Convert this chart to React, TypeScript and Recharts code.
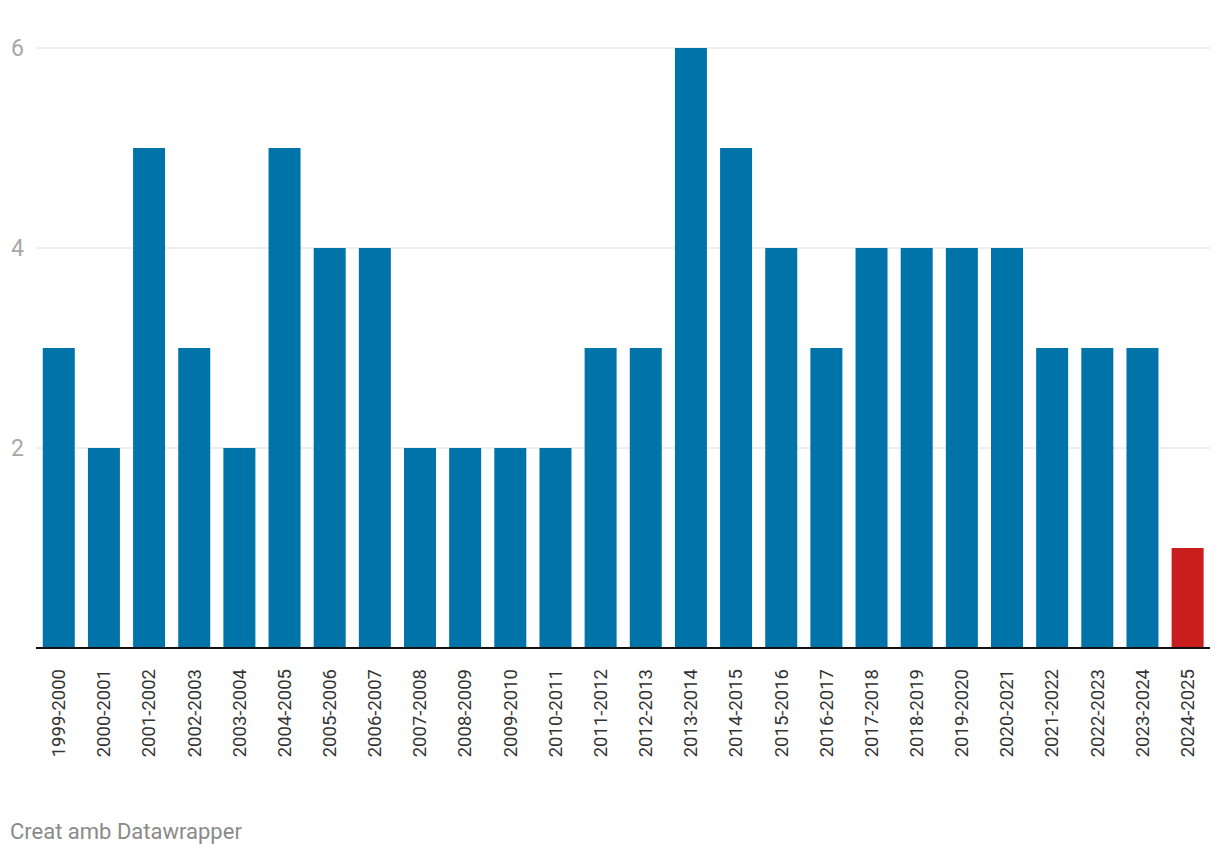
import { BarChart, Bar, XAxis, YAxis, CartesianGrid, Cell } from 'recharts';

// Seasons and counts
const seasons = [
  '1999-2000', '2000-2001', '2001-2002', '2002-2003', '2003-2004', '2004-2005',
  '2005-2006', '2006-2007', '2007-2008', '2008-2009', '2009-2010', '2010-2011',
  '2011-2012', '2012-2013', '2013-2014', '2014-2015', '2015-2016', '2016-2017',
  '2017-2018', '2018-2019', '2019-2020', '2020-2021', '2021-2022', '2022-2023',
  '2023-2024', '2024-2025',
];
const counts = [3, 2, 5, 3, 2, 5, 4, 4, 2, 2, 2, 2, 3, 3, 6, 5, 4, 3, 4, 4, 4, 4, 3, 3, 3, 1];
const yTicks = [0, 2, 4, 6];
const highlightSeason = '2024-2025';

const BLUE = '#0074a8';
const RED = '#c81e1e';
const FONT = 'Roboto, "Noto Sans", sans-serif';

const data = seasons.map((season, i) => ({ season, value: counts[i] }));

function YTick({ y, payload }: any) {
  if (payload.value === 0) return null;
  return (
    <text x={24} y={y} dy="0.35em" textAnchor="end" fill="#a8a8a8" fontSize={23} fontFamily={FONT}>
      {payload.value}
    </text>
  );
}

function XTick({ x, y, payload }: any) {
  return (
    <text
      x={x}
      y={y}
      transform={`rotate(-90, ${x}, ${y})`}
      textAnchor="end"
      dy="0.35em"
      fill="#333333"
      fontSize={18.5}
      fontFamily={FONT}
    >
      {payload.value}
    </text>
  );
}

export default function App() {
  return (
    <div style={{ position: 'absolute', left: 0, top: 0, width: 1220, height: 860, background: '#fff' }}>
      <BarChart
        width={1220}
        height={860}
        data={data}
        margin={{ top: 48, right: 10, left: 0, bottom: 0 }}
        barCategoryGap="15%"
      >
        <CartesianGrid vertical={false} stroke="#dedede" strokeWidth={1} />
        <YAxis
          domain={[0, 6]}
          ticks={yTicks}
          width={36}
          axisLine={false}
          tickLine={false}
          tick={<YTick />}
        />
        <XAxis
          dataKey="season"
          interval={0}
          height={212}
          axisLine={{ stroke: '#111', strokeWidth: 2 }}
          tickLine={false}
          tickMargin={15}
          tick={<XTick />}
        />
        <Bar dataKey="value" isAnimationActive={false}>
          {data.map((d) => (
            <Cell key={d.season} fill={d.season === highlightSeason ? RED : BLUE} />
          ))}
        </Bar>
      </BarChart>
      <div
        style={{
          position: 'absolute',
          left: 10,
          top: 819,
          fontFamily: FONT,
          fontSize: 22,
          color: '#8a8a8a',
        }}
      >
        Creat amb Datawrapper
      </div>
    </div>
  );
}
